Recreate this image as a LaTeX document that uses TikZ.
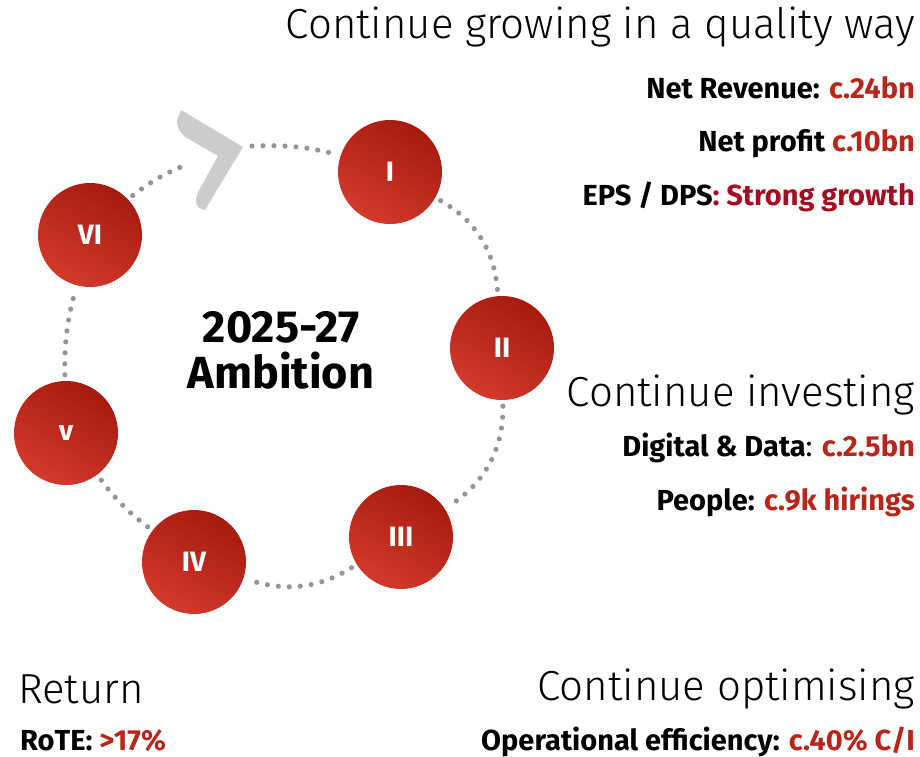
\documentclass[tikz,border=0pt]{standalone}
\usepackage{fontspec}
\setmainfont{Fira Sans}
\newfontfamily\lightfont{Fira Sans Light}
\definecolor{valred}{HTML}{B8261A}
\definecolor{deepred}{HTML}{A30F22}
\definecolor{topred}{HTML}{A61A10}
\definecolor{botred}{HTML}{D23A2B}
\definecolor{dotgray}{HTML}{959595}
\definecolor{chevgray}{HTML}{CCCCCC}

\begin{document}
\begin{tikzpicture}[x=1pt,y=-1pt,
  stage/.style={circle, minimum size=104pt, inner sep=0pt, top color=topred, bottom color=botred, shading angle=-30, text=white, font=\bfseries\fontsize{28}{28}\selectfont},
  dotline/.style={dotgray, line width=5.2pt, line cap=round, dash pattern=on 0pt off 11pt, shorten >=6pt, shorten <=6pt},
  heading/.style={inner sep=0pt, font=\lightfont\fontsize{42}{42}\selectfont},
  fact/.style={inner sep=0pt, font=\bfseries\fontsize{29}{29}\selectfont},
  title/.style={inner sep=0pt, anchor=base, font=\bfseries\fontsize{45}{45}\selectfont}]
\useasboundingbox (0,0) rectangle (920,756);

% the six stages
\node[stage] (I) at (390,172) {I};
\node[stage] (II) at (502,348) {II};
\node[stage] (III) at (401,537) {III};
\node[stage] (IV) at (194,562) {IV};
\node[stage] (V) at (66,433) {v};
\node[stage] (VI) at (90,235) {VI};

% chevron on the loop
\coordinate (chevtip) at (243,147);
\coordinate (chevtail) at (193,162);
\coordinate (chevout) at (252,146);
\fill[chevgray] (181,110) -- (chevtip) -- (205,210) -- (199,208)
  .. controls (195,204) and (195,198) .. (198,192) -- (218,156) -- (187,138)
  .. controls (180,134) and (177,128) .. (177,120) -- cycle;

\draw[dotline] (I) to[bend left=28] (II);
\draw[dotline] (II) to[bend left=29] (III);
\draw[dotline] (III) to[bend left=25] (IV);
\draw[dotline] (IV) to[bend left=8] (V);
\draw[dotline] (V) to[bend left=8] (VI);
\draw[dotline] (VI) to[bend left=8] (chevtail);
\draw[dotline, shorten <=0pt] (chevout) to[bend left=8] (I);

\node[title] (year) at (281,342) {2025-27};
\node[title] (ambition) at (281,388) {Ambition};

% texts on the right
\node[heading, anchor=base east] (growhead) at (915,38) {Continue growing in a quality way};
\node[fact, anchor=base east] (revenue) at (915,98) {Net Revenue: \textcolor{valred}{c.24bn}};
\node[fact, anchor=base east] (profit) at (915,151) {Net profit \textcolor{valred}{c.10bn}};
\node[fact, anchor=base east] (eps) at (915,205) {EPS / DPS\textcolor{deepred}{: Strong growth}};

\node[heading, anchor=base east] (investhead) at (915,406) {Continue investing};
\node[fact, anchor=base east] (digital) at (915,456) {Digital \& Data{\mdseries:} \textcolor{valred}{c.2.5bn}};
\node[fact, anchor=base east] (people) at (915,510) {People: \textcolor{valred}{c.9k hirings}};

% bottom row
\node[heading, anchor=base west] (returnhead) at (18,703) {Return};
\node[fact, anchor=base west] (rote) at (20,750) {RoTE: \textcolor{valred}{>17\%}};
\node[heading, anchor=base east] (optimhead) at (915,700) {Continue optimising};
\node[fact, anchor=base east] (efficiency) at (915,750) {Operational efficiency: \textcolor{valred}{c.40\% C/I}};
\end{tikzpicture}
\end{document}
